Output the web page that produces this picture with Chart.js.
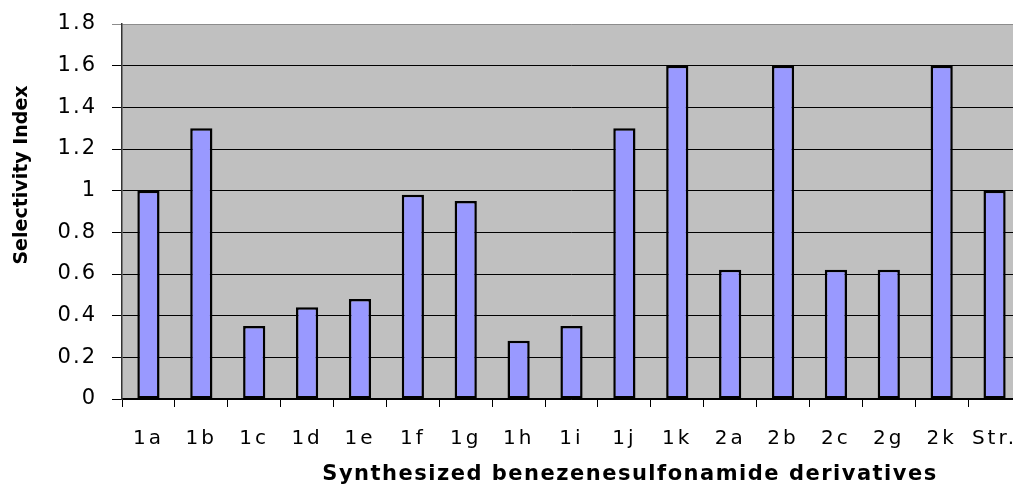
<!DOCTYPE html>
<html>
<head>
<meta charset="utf-8">
<script src="https://cdn.jsdelivr.net/npm/chart.js@4/dist/chart.umd.min.js"></script>
<style>
  body { margin: 0; background: #fff; }
  #wrap { width: 1013px; height: 487px; overflow: hidden; }
</style>
</head>
<body>
<div id="wrap"><canvas id="chart" width="1022" height="487"></canvas></div>
<script>
const categories = ["1a", "1b", "1c", "1d", "1e", "1f", "1g", "1h", "1i", "1j", "1k", "2a", "2b", "2c", "2g", "2k", "Str."];
const selectivity = [1.0, 1.3, 0.35, 0.44, 0.48, 0.98, 0.95, 0.28, 0.35, 1.3, 1.6, 0.62, 1.6, 0.62, 0.62, 1.6, 1.0];
const yMin = 0;
const yMax = 1.8;
const yStep = 0.2;
const xTitle = "Synthesized benezenesulfonamide derivatives";
const yTitle = "Selectivity Index";

// gray plot area + spacing for the stretched-looking tick text
const plotLook = {
  id: "plotLook",
  beforeDraw(chart) {
    const { ctx, chartArea: a } = chart;
    ctx.save();
    ctx.fillStyle = "#c0c0c0";
    ctx.fillRect(a.left, a.top, a.right - a.left, a.bottom - a.top);
    ctx.restore();
    ctx.letterSpacing = "3px"; // x labels
  },
  afterDatasetsDraw(chart) {
    chart.ctx.letterSpacing = "2px"; // y labels (drawn after bars, z = 1)
  },
  afterDraw(chart) {
    const ctx = chart.ctx;
    ctx.save();
    ctx.fillStyle = "#000";
    ctx.textAlign = "center";
    ctx.textBaseline = "middle";

    ctx.letterSpacing = "1.5px";
    ctx.font = "bold 21px 'DejaVu Sans'";
    ctx.fillText(xTitle, 630, 475);

    ctx.letterSpacing = "0px";
    ctx.translate(22, 175);
    ctx.rotate(-Math.PI / 2);
    ctx.font = "bold 19px 'DejaVu Sans'";
    ctx.fillText(yTitle, 0, 0);
    ctx.restore();
    ctx.letterSpacing = "0px";
  }
};

new Chart(document.getElementById("chart"), {
  type: "bar",
  data: {
    labels: categories,
    datasets: [{
      data: selectivity,
      backgroundColor: "#9999ff",
      borderColor: "#000",
      borderWidth: 2.5,
      borderSkipped: false,
      barPercentage: 0.42,
      categoryPercentage: 1
    }]
  },
  options: {
    responsive: false,
    animation: false,
    layout: { padding: { top: 24, right: 1, bottom: 0, left: 0 } },
    plugins: {
      legend: { display: false },
      tooltip: { enabled: false }
    },
    scales: {
      x: {
        offset: true,
        grid: {
          offset: true,
          drawOnChartArea: false,
          drawTicks: true,
          tickLength: 8,
          color: "#000"
        },
        border: { display: true, color: "#000", width: 1.5 },
        ticks: {
          color: "#000",
          font: { family: "DejaVu Sans", size: 20 },
          padding: 20,
          autoSkip: false,
          maxRotation: 0
        },
        afterFit(scale) {
          scale.height = 88;
          scale.paddingLeft = 0;
          scale.paddingRight = 0;
        }
      },
      y: {
        min: yMin,
        max: yMax,
        grid: {
          color: ctx => (ctx.tick && ctx.tick.value >= yMax ? "#8c8c8c" : "#000"),
          lineWidth: 1,
          tickLength: 10
        },
        border: { display: true, color: "#333", width: 1.5 },
        ticks: {
          z: 1,
          stepSize: yStep,
          color: "#000",
          font: { family: "DejaVu Sans", size: 21 },
          padding: 15,
          callback: v => String(Number(v.toFixed(1)))
        },
        afterFit(scale) {
          scale.width = 122;
          scale.paddingTop = 0;
          scale.paddingBottom = 0;
        }
      }
    }
  },
  plugins: [plotLook]
});
</script>
</body>
</html>
